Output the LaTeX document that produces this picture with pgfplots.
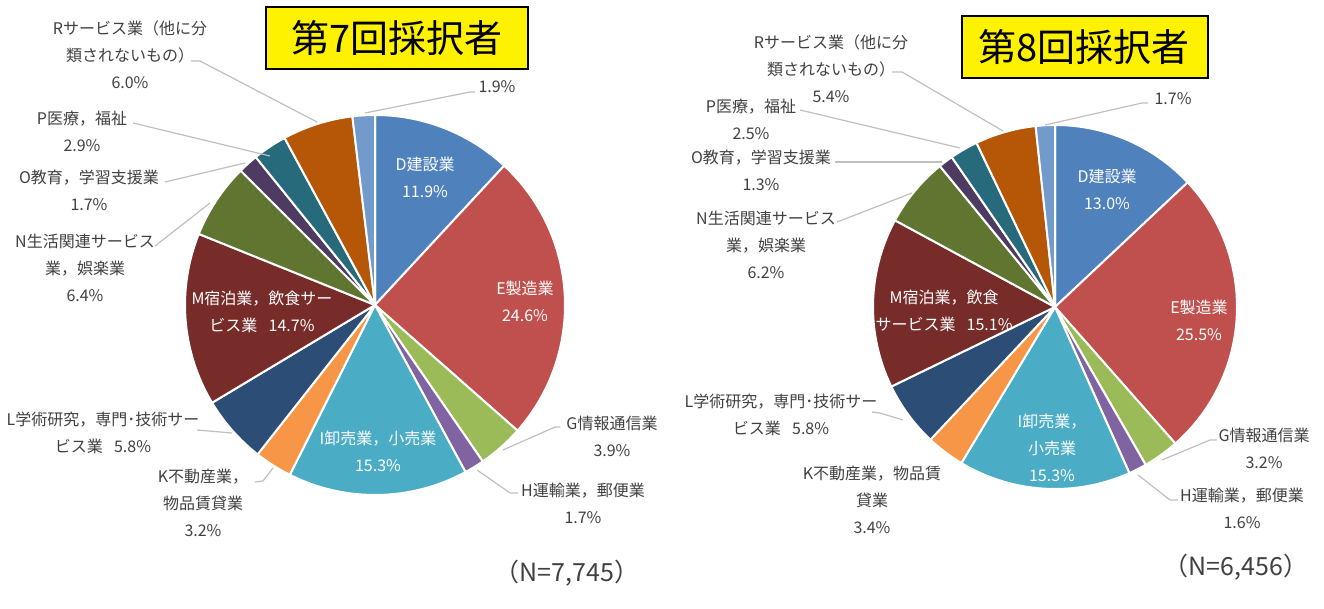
\documentclass[border=0pt]{standalone}
\usepackage{fontspec}
\setmainfont{Noto Sans CJK JP}
\usepackage{pgfplots}
\usepackage{pgfplotstable}
\pgfplotsset{compat=1.18}

\definecolor{cD}{HTML}{4F81BD}
\definecolor{cE}{HTML}{C0504D}
\definecolor{cG}{HTML}{9BBB59}
\definecolor{cH}{HTML}{8064A2}
\definecolor{cI}{HTML}{4BACC6}
\definecolor{cK}{HTML}{F79646}
\definecolor{cL}{HTML}{2C4D75}
\definecolor{cM}{HTML}{772C2A}
\definecolor{cN}{HTML}{5F7530}
\definecolor{cO}{HTML}{4D3B62}
\definecolor{cP}{HTML}{276A7C}
\definecolor{cR}{HTML}{B65708}
\definecolor{cX}{HTML}{729ACA}
\definecolor{labgray}{HTML}{404040}
\definecolor{linegray}{HTML}{BFBFBF}

\tikzset{
  lab/.style={text=labgray, align=center, font=\fontsize{16}{27}\selectfont},
  inlab/.style={text=white, align=center, font=\fontsize{16}{27}\selectfont},
  lead/.style={draw=linegray, line width=1.2pt},
}

% share (%) per industry, clockwise from 12 o'clock
\pgfplotstableread{
val col
11.9 cD
24.6 cE
3.9  cG
1.7  cH
15.3 cI
3.2  cK
5.8  cL
14.7 cM
6.4  cN
1.7  cO
2.9  cP
6.0  cR
1.9  cX
}\seventh

\pgfplotstableread{
val col
13.0 cD
25.5 cE
3.2  cG
1.6  cH
15.3 cI
3.4  cK
5.8  cL
15.1 cM
6.2  cN
1.3  cO
2.5  cP
5.4  cR
1.7  cX
}\eighth

% pie: table, centre x, centre y, radius
\newcommand\drawpie[4]{%
  \xdef\curang{90}%
  \pgfplotsforeachungrouped \i in {0,...,12}{%
    \pgfplotstablegetelem{\i}{val}\of#1\let\wval\pgfplotsretval
    \pgfplotstablegetelem{\i}{col}\of#1\let\wcol\pgfplotsretval
    \pgfmathsetmacro\sa{\curang}%
    \pgfmathsetmacro\ea{\curang-3.6*\wval}%
    \pgfmathsetmacro\xs{#2+#4*cos(\sa)}%
    \pgfmathsetmacro\ys{#3+#4*sin(\sa)}%
    \edef\temp{\noexpand\filldraw[fill=\wcol, draw=white, line width=2pt, line join=round]
      (axis cs:#2,#3) -- (axis cs:\xs,\ys)
      arc[start angle=\sa, end angle=\ea, radius=#4pt] -- cycle;}%
    \temp
    \xdef\curang{\ea}%
  }%
}

\begin{document}
\begin{tikzpicture}
\begin{axis}[
    width=1324pt, height=608pt,
    scale only axis,
    hide axis,
    clip=false,
    xmin=0, xmax=1324,
    ymin=0, ymax=608,
]
\path (axis cs:0,0) rectangle (axis cs:1324,608);

\drawpie{\seventh}{375}{303}{190}
\drawpie{\eighth}{1055}{301}{182}

% titles
\draw[fill=yellow, line width=2.5pt] (axis cs:266,601) rectangle (axis cs:528,539);
\node[font=\fontsize{38}{40}\selectfont] at (axis cs:397,570) {第7回採択者};
\draw[fill=yellow, line width=2.5pt] (axis cs:962,592) rectangle (axis cs:1208,530);
\node[font=\fontsize{38}{40}\selectfont] at (axis cs:1084,561) {第8回採択者};

% leader lines, 7th
\draw[lead] (axis cs:191,547) -- (axis cs:200,547) -- (axis cs:317,486);
\draw[lead] (axis cs:133,485) -- (axis cs:270,452);
\draw[lead] (axis cs:165,426) -- (axis cs:245,445);
\draw[lead] (axis cs:155,362) -- (axis cs:210,405);
\draw[lead] (axis cs:197,178) -- (axis cs:232,175);
\draw[lead] (axis cs:255,126) -- (axis cs:263,127) -- (axis cs:273,140);
\draw[lead] (axis cs:475,516) -- (axis cs:470,516) -- (axis cs:365,495);
\draw[lead] (axis cs:560,181) -- (axis cs:555,181) -- (axis cs:503,158);
\draw[lead] (axis cs:518,115) -- (axis cs:510,115) -- (axis cs:477,138);

% leader lines, 8th
\draw[lead] (axis cs:892,536) -- (axis cs:902,536) -- (axis cs:1003,477);
\draw[lead] (axis cs:800,498) -- (axis cs:960,460);
\draw[lead] (axis cs:835,446) -- (axis cs:942,446);
\draw[lead] (axis cs:837,386) -- (axis cs:912,415);
\draw[lead] (axis cs:872,196) -- (axis cs:880,195) -- (axis cs:903,188);
\draw[lead] (axis cs:1148,505) -- (axis cs:1142,505) -- (axis cs:1045,483);
\draw[lead] (axis cs:1217,168) -- (axis cs:1210,168) -- (axis cs:1162,148);
\draw[lead] (axis cs:1178,108) -- (axis cs:1170,108) -- (axis cs:1138,133);

% labels, 7th
\node[lab] at (axis cs:130,553) {Rサービス業（他に分\\類されないもの）\\6.0\%};
\node[lab] at (axis cs:82,476.5) {P医療，福祉\\2.9\%};
\node[lab] at (axis cs:89,417.5) {O教育，学習支援業\\1.7\%};
\node[lab] at (axis cs:85,340) {N生活関連サービス\\業，娯楽業\\6.4\%};
\node[lab] at (axis cs:103,175.5) {L学術研究，専門･技術サー\\ビス業\hspace{0.7em}5.8\%};
\node[lab] at (axis cs:203,105) {K不動産業，\\物品賃貸業\\3.2\%};
\node[lab] at (axis cs:497,521) {1.9\%};
\node[lab] at (axis cs:612,172) {G情報通信業\\3.9\%};
\node[lab] at (axis cs:583,104.5) {H運輸業，郵便業\\1.7\%};
\node[inlab] at (axis cs:425,431) {D建設業\\11.9\%};
\node[inlab] at (axis cs:525,307) {E製造業\\24.6\%};
\node[inlab] at (axis cs:262,296.5) {M宿泊業，飲食サー\\ビス業\hspace{0.7em}14.7\%};
\node[inlab] at (axis cs:378,157) {I卸売業，小売業\\15.3\%};
\node[text=labgray, font=\fontsize{25}{28}\selectfont] at (axis cs:567,35) {（N=7,745）};

% labels, 8th
\node[lab] at (axis cs:831,539.5) {Rサービス業（他に分\\類されないもの）\\5.4\%};
\node[lab] at (axis cs:751,488.5) {P医療，福祉\\2.5\%};
\node[lab] at (axis cs:761,437.5) {O教育，学習支援業\\1.3\%};
\node[lab] at (axis cs:766,363) {N生活関連サービス\\業，娯楽業\\6.2\%};
\node[lab] at (axis cs:781,193) {L学術研究，専門･技術サー\\ビス業\hspace{0.7em}5.8\%};
\node[lab] at (axis cs:872,108) {K不動産業，物品賃\\貸業\\3.4\%};
\node[lab] at (axis cs:1173,509) {1.7\%};
\node[lab] at (axis cs:1264,159.5) {G情報通信業\\3.2\%};
\node[lab] at (axis cs:1242,99.5) {H運輸業，郵便業\\1.6\%};
\node[inlab] at (axis cs:1107,418.5) {D建設業\\13.0\%};
\node[inlab] at (axis cs:1199,288) {E製造業\\25.5\%};
\node[inlab] at (axis cs:944,297.5) {M宿泊業，飲食\\サービス業\hspace{0.7em}15.1\%};
\node[inlab] at (axis cs:1052,160.5) {I卸売業，\\小売業\\15.3\%};
\node[text=labgray, font=\fontsize{25}{28}\selectfont] at (axis cs:1236,41) {（N=6,456）};
\end{axis}
\end{tikzpicture}
\end{document}
